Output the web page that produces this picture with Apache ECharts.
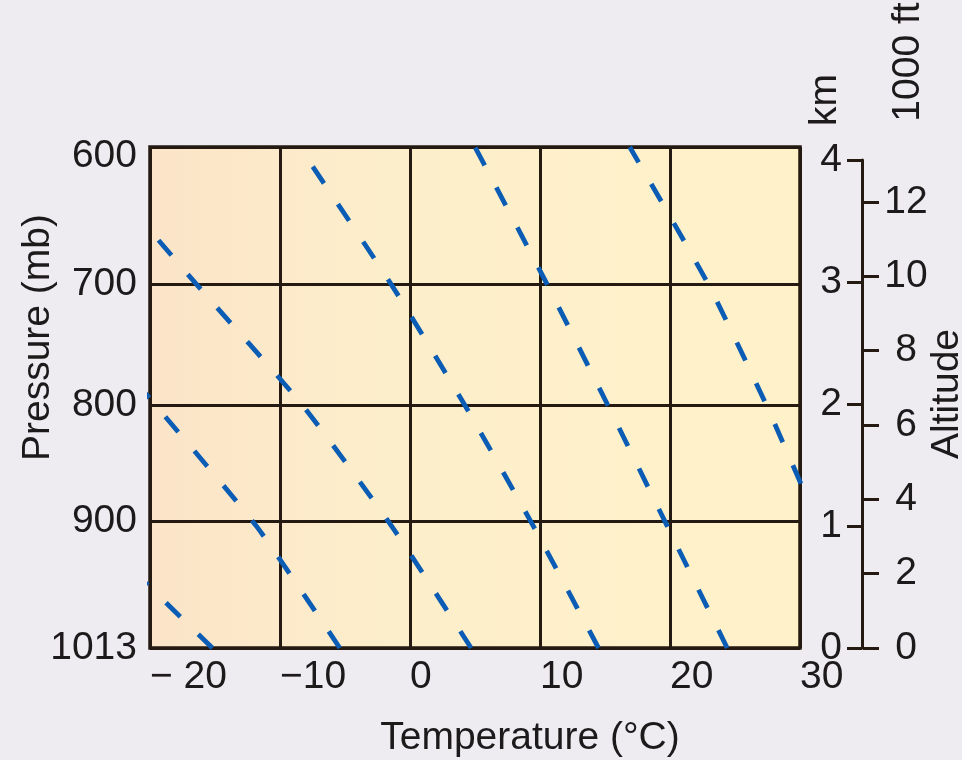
<!DOCTYPE html>
<html>
<head>
<meta charset="utf-8">
<script src="https://cdn.jsdelivr.net/npm/echarts@6/dist/echarts.min.js"></script>
<style>
html, body { margin: 0; padding: 0; background: #efecf1; }
#chart { width: 962px; height: 760px; }
</style>
</head>
<body>
<div id="chart"></div>
<script>
// ---- Data ----
const xTicks = [-20, -10, 0, 10, 20, 30];
const xTickLabels = ['\u2212 20', '\u221210', '0', '10', '20', '30'];
const pressureLabels = ['1013', '900', '800', '700', '600'];
const pressureHeightsKm = [0, 1.04, 2.0, 2.99, 4.12];
const kmTicks = [0, 1, 2, 3, 4];
const ftTicks = [0, 2, 4, 6, 8, 10, 12];
const lineLevelsKm = [0, 1, 2, 3, 4.12];
const adiabat1 = [-15.2, -24.8];
const adiabat2 = [-5.4, -11.8, -19.6, -27.6];
const adiabat3 = [4.7, -1.4, -8.3, -16.5, -25.5];
const adiabat4 = [14.5, 9.5, 4.2, -1.5, -8.5];
const adiabat5 = [24.4, 19.8, 15.2, 10.5, 5.0];
const adiabat6 = [35.7, 31.5, 27.4, 22.9, 16.9];
const adiabats = [adiabat1, adiabat2, adiabat3, adiabat4, adiabat5, adiabat6];
const KM_TO_KFT = 3.2808;

// ---- Styling ----
const FONT = '"Liberation Sans", Arial, Helvetica, sans-serif';
const TEXT = '#1d1a1c';
const INK = '#241a12';
const BLUE = '#0b5cb4';
const FS = 39;

function lookup(values, labels, v) {
  for (let i = 0; i < values.length; i++) {
    if (Math.abs(values[i] - v) < 1e-6) return labels[i];
  }
  return '';
}

const chart = echarts.init(document.getElementById('chart'), null, { renderer: 'canvas' });

const series = adiabats.map(function (temps, i) {
  return {
    type: 'line',
    name: 'adiabat' + (i + 1),
    xAxisIndex: 0,
    yAxisIndex: 0,
    data: temps.map(function (t, j) { return [t, lineLevelsKm[j]]; }),
    showSymbol: false,
    symbol: 'none',
    silent: true,
    clip: true,
    smooth: 0.2,
    lineStyle: { color: BLUE, width: 4.8, type: [20, 25], cap: 'butt' },
    z: 5
  };
});

const maxPressureHeight = pressureHeightsKm[pressureHeightsKm.length - 1];

const option = {
  backgroundColor: '#efecf1',
  animation: false,
  textStyle: { fontFamily: FONT },
  grid: [
    {
      left: 150, right: 162, top: 147, bottom: 112,
      containLabel: false, outerBoundsMode: 'none',
      show: true, borderColor: INK, borderWidth: 3.5,
      backgroundColor: new echarts.graphic.LinearGradient(0, 0, 1, 0, [
        { offset: 0, color: '#fbe4c8' },
        { offset: 0.35, color: '#fdeecb' },
        { offset: 1, color: '#fff2c9' }
      ])
    },
    { left: 862, right: 99, top: 160, bottom: 112, containLabel: false, outerBoundsMode: 'none', show: false }
  ],
  xAxis: [
    {
      gridIndex: 0, type: 'value', min: -20, max: 30, interval: 10,
      axisLine: { show: false },
      axisTick: { show: false },
      splitLine: { show: true, lineStyle: { color: INK, width: 3 } },
      axisLabel: {
        formatter: function (v) { return lookup(xTicks, xTickLabels, v); },
        align: 'left', fontSize: FS, color: TEXT, margin: 10, fontFamily: FONT
      },
      name: 'Temperature (\u00B0C)', nameLocation: 'middle', nameGap: 71, nameMoveOverlap: false,
      nameTextStyle: { fontSize: FS, color: TEXT, fontFamily: FONT, padding: [0, 0, 0, 110] }
    },
    { gridIndex: 1, type: 'value', show: false, min: 0, max: 1 }
  ],
  yAxis: [
    {
      gridIndex: 0, type: 'value', min: 0, max: maxPressureHeight,
      axisLine: { show: false },
      axisTick: { show: false, customValues: pressureHeightsKm },
      splitLine: { show: true, lineStyle: { color: INK, width: 3 } },
      axisLabel: {
        customValues: pressureHeightsKm,
        formatter: function (v) {
          const s = lookup(pressureHeightsKm, pressureLabels, v);
          return Math.abs(v - maxPressureHeight) < 1e-6 ? '{top|' + s + '}' : s;
        },
        rich: { top: { fontSize: FS, color: TEXT, fontFamily: FONT, padding: [18, 0, 0, 0] } },
        fontSize: FS, color: TEXT, margin: 13, fontFamily: FONT
      },
      name: 'Pressure (mb)', nameLocation: 'middle', nameRotate: 90, nameGap: 92, nameMoveOverlap: false,
      nameTextStyle: { fontSize: FS, color: TEXT, fontFamily: FONT, padding: [0, 0, 0, 120] }
    },
    {
      gridIndex: 1, type: 'value', position: 'left', min: 0, max: 4,
      axisLine: { show: true, lineStyle: { color: INK, width: 3 } },
      axisTick: { show: true, customValues: kmTicks, length: 15, lineStyle: { color: INK, width: 3 } },
      axisLabel: { customValues: kmTicks, fontSize: FS, color: TEXT, margin: 20, fontFamily: FONT },
      splitLine: { show: false }
    },
    {
      gridIndex: 1, type: 'value', position: 'right', min: 0, max: 4 * KM_TO_KFT,
      axisLine: { show: false },
      axisTick: { show: true, customValues: ftTicks, length: 16, lineStyle: { color: INK, width: 3 } },
      axisLabel: { customValues: ftTicks, align: 'center', fontSize: FS, color: TEXT, margin: 43, fontFamily: FONT },
      splitLine: { show: false }
    }
  ],
  graphic: [
    { type: 'text', x: 825, y: 100, rotation: Math.PI / 2,
      style: { text: 'km', font: FS + 'px ' + FONT, fill: TEXT, align: 'center', verticalAlign: 'middle' } },
    { type: 'text', x: 908, y: 62, rotation: Math.PI / 2,
      style: { text: '1000 ft', font: FS + 'px ' + FONT, fill: TEXT, align: 'center', verticalAlign: 'middle' } },
    { type: 'text', x: 947, y: 394, rotation: Math.PI / 2,
      style: { text: 'Altitude', font: FS + 'px ' + FONT, fill: TEXT, align: 'center', verticalAlign: 'middle' } }
  ],
  series: series
};

chart.setOption(option);
</script>
</body>
</html>
